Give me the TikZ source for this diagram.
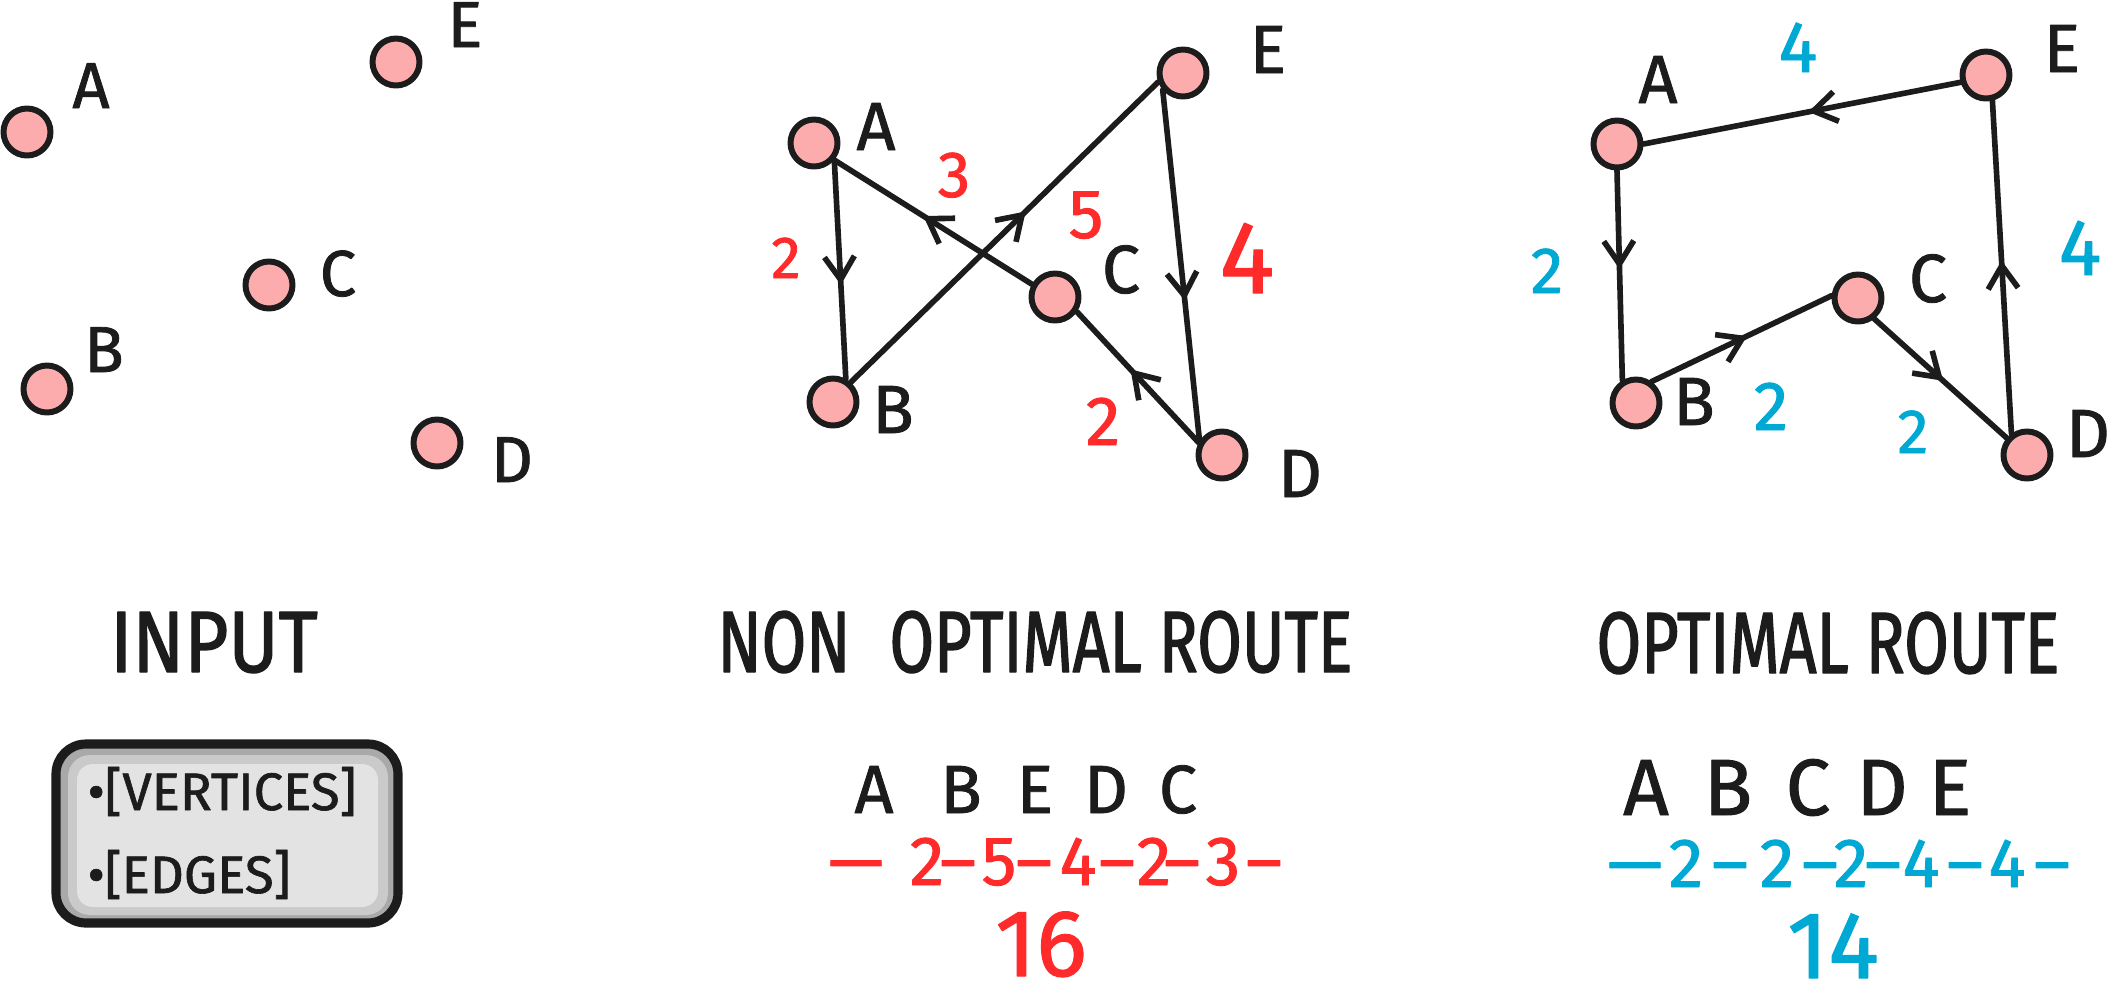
\documentclass[tikz,border=0pt]{standalone}
\usepackage{fontspec}
\setmainfont{Fira Sans}[FakeBold=1.2]
\newfontfamily\handfont{Fira Sans}[FakeStretch=0.74, FakeBold=1.5]
\newfontfamily\widehandfont{Fira Sans}[FakeStretch=0.87, FakeBold=1.5]
\usetikzlibrary{arrows.meta,decorations.markings}
\definecolor{vertexpink}{HTML}{FCACAC}
\definecolor{inkblack}{HTML}{1C1C1C}
\definecolor{costred}{HTML}{FF2B2B}
\definecolor{costblue}{HTML}{00A9D4}
\definecolor{boxdark}{HTML}{A9A9A9}
\definecolor{boxmid}{HTML}{CACACA}
\definecolor{boxlight}{HTML}{E3E3E3}
\newcommand{\fsz}[1]{\fontsize{#1}{#1}\selectfont}
\begin{document}
\begin{tikzpicture}[x=0.1mm, y=-0.1mm, line join=round, line cap=round,
	vertex/.style={circle, draw=inkblack, fill=vertexpink, line width=1.7pt, minimum size=4.7mm, inner sep=0pt},
	edge/.style={inkblack, line width=1.6pt},
	midarrow/.style={postaction={decorate, decoration={markings, mark=at position #1 with {\arrow{Straight Barb[length=2.3mm, width=3mm]}}}}},
	midarrow/.default=0.55,
	lbl/.style={text=inkblack, anchor=base, font=\fsz{#1}}, lbl/.default=19.4,
	cred/.style={text=costred, anchor=base, font=\fsz{#1}}, cred/.default=19.8,
	cblue/.style={text=costblue, anchor=base, font=\fsz{#1}}, cblue/.default=19.8,
	title/.style={text=inkblack, anchor=base, font=\handfont\fsz{24.8}}]
	\useasboundingbox[fill=white] (0,0) rectangle (2110,1000);
	%\draw[gray!40] (0,0) grid[step=100] (2110,1000);
	
	% input
	\node[vertex] (A1) at (27,132) {};
	\node[vertex] (B1) at (47,389) {};
	\node[vertex] (C1) at (269,285) {};
	\node[vertex] (D1) at (437,443) {};
	\node[vertex] (E1) at (396,62) {};
	\node[lbl=18.5] (lA1) at (91,108) {A};
	\node[lbl=18.5] (lB1) at (104,372) {B};
	\node[lbl=18.5] (lC1) at (338,296) {C};
	\node[lbl=18.5] (lD1) at (512,482) {D};
	\node[lbl=18.5] (lE1) at (465,47) {E};
	
	% non optimal route
	\node[vertex] (A2) at (814,143) {};
	\node[vertex] (B2) at (833,402) {};
	\node[vertex] (C2) at (1055,297) {};
	\node[vertex] (D2) at (1222,455) {};
	\node[vertex] (E2) at (1183,73) {};
	\node[lbl] (lA2) at (876,150) {A};
	\node[lbl] (lB2) at (893,433) {B};
	\node[lbl] (lC2) at (1121,293) {C};
	\node[lbl] (lD2) at (1300,497) {D};
	\node[lbl] (lE2) at (1268,73) {E};
	\draw[edge, midarrow=0.57] (A2.-40) -- (B2.61);
	\draw[edge, midarrow=0.57] (B2.48) -- (E2.200);
	\draw[edge, midarrow=0.6] (E2.220) -- (D2.148);
	\draw[edge, midarrow=0.56] (D2.152) -- (C2.-34);
	\draw[edge, midarrow=0.55] (C2.151) -- (A2.-40);
	\node[cred=16.9] (wAB2) at (786,278) {2};
	\node[cred=19.8] (wBE2) at (1086,238) {5};
	\node[cred=29.3] (wED2) at (1247,293) {4};
	\node[cred=19.8] (wDC2) at (1103,445) {2};
	\node[cred=18.6] (wCA2) at (954,197) {3};
	
	% optimal route
	\node[vertex] (A3) at (1617,144) {};
	\node[vertex] (B3) at (1636,403) {};
	\node[vertex] (C3) at (1858,298) {};
	\node[vertex] (D3) at (2027,455) {};
	\node[vertex] (E3) at (1986,75) {};
	\node[lbl] (lA3) at (1658,103) {A};
	\node[lbl] (lB3) at (1694,425) {B};
	\node[lbl] (lC3) at (1928,302) {C};
	\node[lbl, inner sep=0pt] (lD3) at (2088,457) {D};
	\node[lbl] (lE3) at (2062,72) {E};
	\draw[edge, midarrow=0.47] (A3.-90) -- (B3.121);
	\draw[edge, midarrow=0.53] (B3.54) -- (C3.175);
	\draw[edge, midarrow=0.52] (C3.-52) -- (D3.140);
	\draw[edge, midarrow=0.52] (D3.126) -- (E3.-76);
	\draw[edge, midarrow=0.48] (E3.196) -- (A3.0);
	\node[cblue=18.6] (wAB3) at (1547,293) {2};
	\node[cblue=19.8] (wBC3) at (1771,430) {2};
	\node[cblue=17.8] (wCD3) at (1913,453) {2};
	\node[cblue=22.7] (wDE3) at (2080,275) {4};
	\node[cblue=20.7] (wEA3) at (1798,72) {4};
	
	% titles
	\node[title, font=\widehandfont\fsz{24.8}] (tInput) at (214,672) {INPUT};
	\node[title] (tNon) at (1035,672) {NON\hspace{0.45em}OPTIMAL ROUTE};
	\node[title] (tOpt) at (1828,673) {OPTIMAL ROUTE};
	
	% input box
	\draw[inkblack, line width=2.6pt, fill=boxdark, rounded corners=3mm] (56,744) rectangle (398,923);
	\fill[boxmid, rounded corners=2.2mm] (68,755) rectangle (388,915);
	\fill[boxlight, rounded corners=1.6mm] (77,764) rectangle (378,907);
	\node[lbl=15, anchor=base west, inner sep=0pt] (bVert) at (87,810) {•[VERTICES]};
	\node[lbl=15, anchor=base west, inner sep=0pt] (bEdge) at (87,893) {•[EDGES]};
	
	% routes and sums
	\foreach \n/\x in {A/874, B/961, E/1035, D/1106, C/1178}
		\node[lbl] (r2\n) at (\x,813) {\n};
	\foreach \t/\x [count=\i] in {—/856, 2/927, –/958, 5/999, –/1034, 4/1078, –/1117, 2/1154, –/1182, 3/1223, –/1264}
		\node[cred] (s2\i) at (\x,885) {\t};
	\node[cred=27, inner sep=0pt] (sum2) at (1041,976) {16};
	
	\foreach \n/\x in {A/1646, B/1728, C/1808, D/1882, E/1950}
		\node[lbl=22.7] (r3\n) at (\x,815) {\n};
	\foreach \t/\x [count=\i] in {—/1635, 2/1686, –/1730, 2/1777, –/1820, 2/1851, –/1883, 4/1921, –/1965, 4/2007, –/2052}
		\node[cblue] (s3\i) at (\x,887) {\t};
	\node[cblue=27, inner sep=0pt] (sum3) at (1833,978) {14};
\end{tikzpicture}
\end{document}
